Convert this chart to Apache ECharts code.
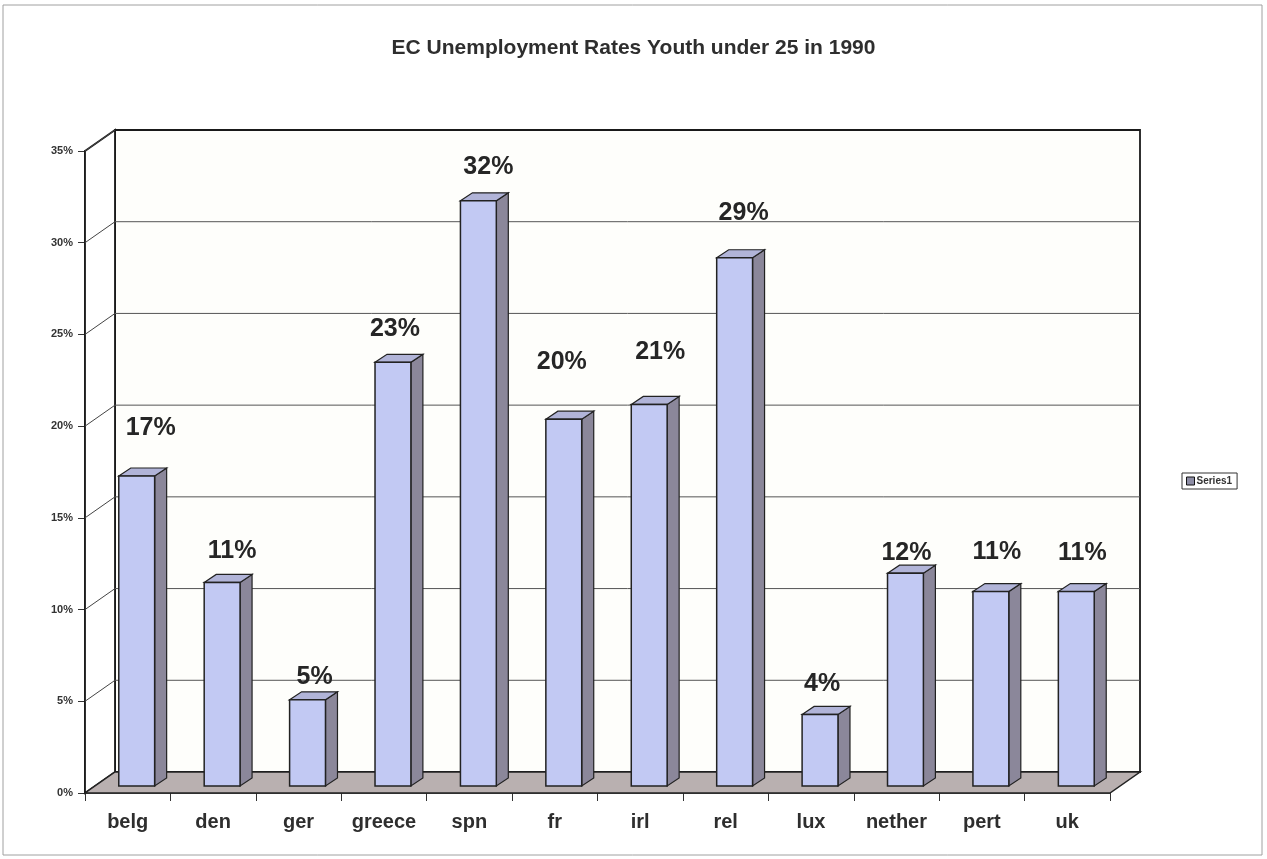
<!DOCTYPE html>
<html>
<head>
<meta charset="utf-8">
<script src="https://cdn.jsdelivr.net/npm/echarts@6/dist/echarts.min.js"></script>
<style>html,body{margin:0;padding:0;background:#fff}#chart{width:1267px;height:859px}</style>
</head>
<body>
<div id="chart"></div>
<script>
// ---- data ----
const categories = ['belg','den','ger','greece','spn','fr','irl','rel','lux','nether','pert','uk'];
const rates = [16.9, 11.1, 4.7, 23.1, 31.9, 20.0, 20.8, 28.8, 3.9, 11.6, 10.6, 10.6];
const seriesName = 'Series1';
const yMin = 0, yMax = 35, yStep = 5;
const titleText = 'EC Unemployment Rates Youth under 25 in 1990';
// label nudges (style only): [dx, gap above bar top]
const labelNudge = [[14,48],[10,31],[7,23],[2,33],[10,34],[-2,57],[11,52],[9,45],[2,30],[1,20],[6,39],[6,38]];

// ---- 3D styling ----
const DX = 30, DY = -21;          // depth of back wall
const BOX = 9, BOY = -7;          // bar front offset into depth
const BDX = 12, BDY = -8;         // bar depth
const FONT = 'Liberation Sans, Arial, sans-serif';

const chart = echarts.init(document.getElementById('chart'));

function frameRender(params, api) {
  const cs = params.coordSys;
  const x0 = cs.x, x1 = cs.x + cs.width;
  const yb = api.coord([0, yMin])[1];
  const yt = api.coord([0, yMax])[1];
  const children = [];
  children.push({type:'rect', shape:{x:x0+DX, y:yt+DY, width:x1-x0, height:yb-yt},
    style:{fill:'#fefefb', stroke:'#1a1a1a', lineWidth:1.8}});
  children.push({type:'polygon', shape:{points:[[x0,yb],[x0,yt],[x0+DX,yt+DY],[x0+DX,yb+DY]]},
    style:{fill:'#ffffff', stroke:'#1a1a1a', lineWidth:1.8}});
  for (let v = yMin; v <= yMax; v += yStep) {
    const y = api.coord([0, v])[1];
    if (v > yMin && v < yMax) {
      children.push({type:'line', shape:{x1:x0+DX, y1:y+DY, x2:x1+DX, y2:y+DY},
        style:{stroke:'#555', lineWidth:1}});
    }
    children.push({type:'line', shape:{x1:x0, y1:y, x2:x0+DX, y2:y+DY},
      style:{stroke:'#444', lineWidth:1}});
  }
  children.push({type:'polygon', shape:{points:[[x0,yb],[x0+DX,yb+DY],[x1+DX,yb+DY],[x1,yb]]},
    style:{fill:'#b9b0b0', stroke:'#222', lineWidth:1.5}});
  return {type:'group', children};
}

function barRender(params, api) {
  const i = api.value(0), v = api.value(1);
  const base = api.coord([i, 0]);
  const top = api.coord([i, v]);
  const bw = api.size([1, 0])[0] * 0.42;
  const cx = base[0] + BOX;
  const xl = cx - bw / 2, xr = cx + bw / 2;
  const yb = base[1] + BOY, yt = top[1] + BOY;
  const n = labelNudge[params.dataIndex] || [0, 35];
  return {type:'group', children:[
    {type:'polygon', shape:{points:[[xr,yt],[xr+BDX,yt+BDY],[xr+BDX,yb+BDY],[xr,yb]]},
      style:{fill:'#8b879a', stroke:'#222', lineWidth:1.2}},
    {type:'polygon', shape:{points:[[xl,yt],[xl+BDX,yt+BDY],[xr+BDX,yt+BDY],[xr,yt]]},
      style:{fill:'#b1b4d8', stroke:'#222', lineWidth:1.2}},
    {type:'rect', shape:{x:xl, y:yt, width:bw, height:yb-yt},
      style:{fill:'#c2c9f3', stroke:'#222', lineWidth:1.5}},
    {type:'text', x: cx + n[0], y: yt - n[1],
      style:{text: Math.round(v) + '%', fill:'#262626', font:'bold 25px ' + FONT,
        align:'center', verticalAlign:'middle'}}
  ]};
}

const option = {
  backgroundColor: '#ffffff',
  animation: false,
  title: {text: titleText, left: 'center', top: 33,
    textStyle:{fontFamily: FONT, fontSize: 21, fontWeight:'bold', color:'#2e2e2e'}},
  legend: {data:[seriesName], left: 1182, top: 473, orient:'vertical',
    itemWidth: 8, itemHeight: 8, itemGap: 2, padding:[3,5,3,4],
    borderColor:'#333', borderWidth:1, borderRadius:0,
    icon:'rect', itemStyle:{color:'#8d8da5', borderColor:'#111', borderWidth:1},
    textStyle:{fontFamily: FONT, fontSize: 10, fontWeight:'bold', color:'#333', padding:[0,0,0,-3]}},
  grid: {left: 85, right: 157, top: 151, bottom: 66},
  xAxis: {type:'category', data: categories,
    axisLine:{show:true, lineStyle:{color:'#222', width:1.5}},
    axisTick:{show:true, interval: 0, alignWithLabel:false, length:8, lineStyle:{color:'#333'}},
    axisLabel:{interval: 0, hideOverlap: false, margin: 19, fontFamily: FONT, fontSize: 20, fontWeight:'bold', color:'#2e2e2e'},
    splitLine:{show:false}},
  yAxis: {type:'value', min: yMin, max: yMax, interval: yStep,
    axisLine:{show:true, lineStyle:{color:'#222', width:1.8}},
    axisTick:{show:true, length:7, lineStyle:{color:'#333'}},
    axisLabel:{formatter:'{value}%', margin: 12, fontFamily: FONT, fontSize: 11, fontWeight:'bold', color:'#333'},
    splitLine:{show:false}},
  series: [
    {type:'custom', name:'frame', z: 1, silent: true, renderItem: frameRender,
      data: [[0, 0]], encode:{x:0, y:1}},
    {type:'custom', name: seriesName, z: 3, renderItem: barRender,
      itemStyle:{color:'#c2c9f3'},
      data: categories.map((c, i) => [i, rates[i]]), encode:{x:0, y:1}}
  ],
  graphic: [
    {type:'rect', z: -1, shape:{x:3, y:5, width:1259, height:850},
      style:{fill:'none', stroke:'#a0a0a0', lineWidth:1}}
  ]
};
chart.setOption(option);
</script>
</body>
</html>
